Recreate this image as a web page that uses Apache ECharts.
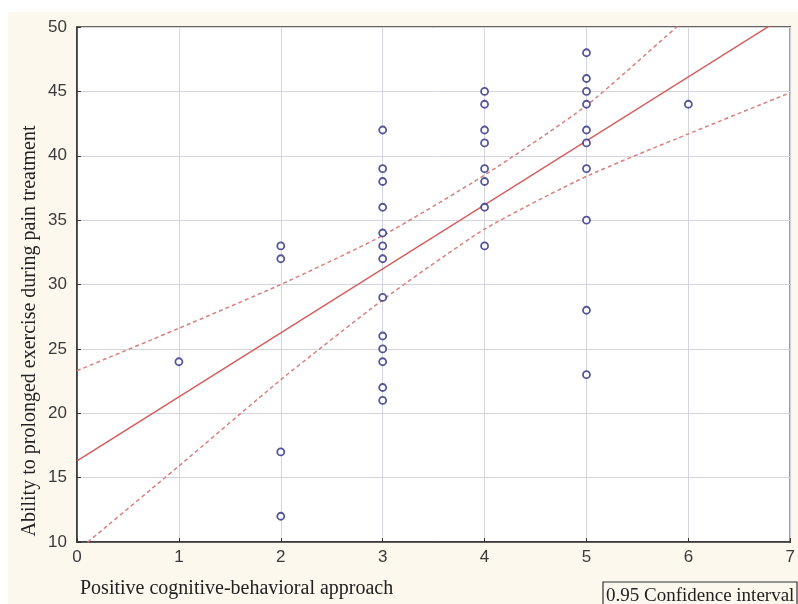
<!DOCTYPE html>
<html>
<head>
<meta charset="utf-8">
<script src="https://cdn.jsdelivr.net/npm/echarts@6/dist/echarts.min.js"></script>
<style>
  html, body { margin: 0; padding: 0; background: #fff; }
  #chart { width: 798px; height: 604px; }
</style>
</head>
<body>
<div id="chart"></div>
<script>
// observed points (x = approach score, y = exercise ability)
const pointsX1 = [[1, 24]];
const pointsX2 = [[2, 33], [2, 32], [2, 17], [2, 12]];
const pointsX3 = [[3, 42], [3, 39], [3, 38], [3, 36], [3, 34], [3, 33], [3, 32], [3, 29], [3, 26], [3, 25], [3, 24], [3, 22], [3, 21]];
const pointsX4 = [[4, 45], [4, 44], [4, 42], [4, 41], [4, 39], [4, 38], [4, 36], [4, 33]];
const pointsX5 = [[5, 48], [5, 46], [5, 45], [5, 44], [5, 42], [5, 41], [5, 39], [5, 35], [5, 28], [5, 23]];
const pointsX6 = [[6, 44]];

// fitted line and 0.95 band
const fitLine = [[0, 16.3], [7, 51.1]];
const upperBand = [[0, 23.3], [1, 26.6], [2, 30.0], [3, 33.8], [4, 38.5], [5, 43.9], [6, 50.8], [7, 57.5]];
const lowerBand = [[0, 9.3], [1, 15.9], [2, 22.6], [3, 28.8], [4, 34.3], [5, 38.4], [6, 41.7], [7, 44.9]];

const xName = 'Positive cognitive-behavioral approach';
const yName = 'Ability to prolonged exercise during pain treatment';
const legendText = '0.95 Confidence interval';

const allPoints = [].concat(pointsX1, pointsX2, pointsX3, pointsX4, pointsX5, pointsX6);

const chart = echarts.init(document.getElementById('chart'), null, { renderer: 'canvas' });

const option = {
  backgroundColor: '#ffffff',
  animation: false,
  grid: {
    left: 77, top: 27, right: 3, bottom: 62,
    show: true,
    backgroundColor: '#ffffff',
    borderColor: '#333333',
    borderWidth: 1.5
  },
  xAxis: {
    type: 'value',
    min: 0, max: 7, interval: 1,
    axisLine: { show: true, lineStyle: { color: '#333', width: 1.5 } },
    axisTick: { show: true, inside: true, length: 4, lineStyle: { color: '#333' } },
    axisLabel: { color: '#3a3a3a', fontFamily: 'Liberation Sans', fontSize: 17, margin: 7 },
    splitLine: { show: true, lineStyle: { color: '#d4d4dc', width: 1 } }
  },
  yAxis: {
    type: 'value',
    min: 10, max: 50, interval: 5,
    axisLine: { show: true, lineStyle: { color: '#333', width: 1.5 } },
    axisTick: { show: true, inside: true, length: 4, lineStyle: { color: '#333' } },
    axisLabel: { color: '#3a3a3a', fontFamily: 'Liberation Sans', fontSize: 17, margin: 10 },
    splitLine: { show: true, lineStyle: { color: '#d4d4dc', width: 1 } }
  },
  series: [
    {
      type: 'line',
      data: upperBand,
      symbol: 'none',
      clip: true,
      smooth: 0.2,
      lineStyle: { color: '#d98080', width: 1.5, type: [4, 3] },
      z: 2
    },
    {
      type: 'line',
      data: lowerBand,
      symbol: 'none',
      clip: true,
      smooth: 0.2,
      lineStyle: { color: '#d98080', width: 1.5, type: [4, 3] },
      z: 2
    },
    {
      type: 'line',
      data: fitLine,
      symbol: 'none',
      clip: true,
      lineStyle: { color: '#d65a5a', width: 1.4 },
      z: 3
    },
    {
      type: 'scatter',
      data: allPoints,
      symbol: 'circle',
      symbolSize: 7,
      itemStyle: { color: '#ffffff', borderColor: '#2b2b80', borderWidth: 1.8 },
      z: 4
    }
  ],
  graphic: [
    {
      type: 'rect', silent: true, z: -10,
      shape: { x: 8, y: 12, width: 790, height: 592 },
      style: { fill: '#fcf8ee' }
    },
    {
      type: 'text', silent: true,
      x: 30, y: 331, rotation: Math.PI / 2,
      style: {
        text: yName, fill: '#222', fontFamily: 'Liberation Serif', fontSize: 20,
        textAlign: 'center', textVerticalAlign: 'middle'
      }
    },
    {
      type: 'text', silent: true,
      x: 80, y: 589,
      style: {
        text: xName, fill: '#222', fontFamily: 'Liberation Serif', fontSize: 20,
        textAlign: 'left', textVerticalAlign: 'middle'
      }
    },
    {
      type: 'rect', silent: true,
      shape: { x: 603, y: 582, width: 194, height: 30 },
      style: { fill: '#fcf8ee', stroke: '#333', lineWidth: 1.2 }
    },
    {
      type: 'text', silent: true,
      x: 606, y: 596,
      style: {
        text: legendText, fill: '#222', fontFamily: 'Liberation Serif', fontSize: 19,
        textAlign: 'left', textVerticalAlign: 'middle'
      }
    }
  ]
};

chart.setOption(option);
</script>
</body>
</html>
